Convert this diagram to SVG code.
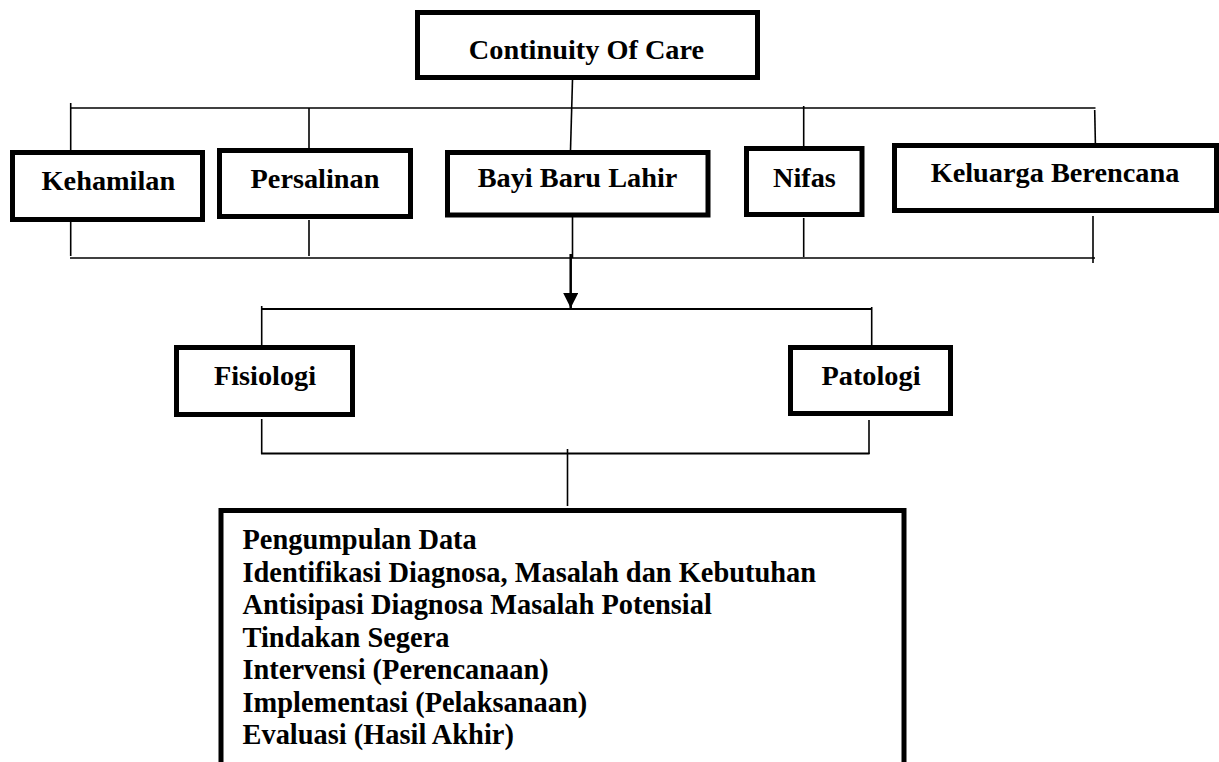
<svg xmlns="http://www.w3.org/2000/svg" width="1219" height="762" viewBox="0 0 1219 762">
<defs>
<style>
.box{fill:#fff;stroke:#000;stroke-width:5}
.lbl{font-family:"Liberation Serif","Times New Roman",serif;font-weight:bold;font-size:28.3px;fill:#000;text-anchor:middle}
.lst{font-family:"Liberation Serif","Times New Roman",serif;font-weight:bold;font-size:28.4px;fill:#000}
.ln{stroke:#000;stroke-width:1.6;fill:none}
.ln2{stroke:#000;stroke-width:2;fill:none}
</style>
<marker id="arr" markerWidth="6" markerHeight="6" refX="6" refY="3" orient="auto" markerUnits="strokeWidth">
<path d="M0,0 L6,3 L0,6 Z" fill="#000"/>
</marker>
</defs>
<rect width="1219" height="762" fill="#fff"/>
<g id="connectors">
<line class="ln" x1="572.5" y1="80" x2="570.5" y2="150"/>
<line class="ln" x1="70" y1="108" x2="1095.5" y2="108"/>
<line class="ln" x1="70.7" y1="103" x2="70.7" y2="150"/>
<line class="ln" x1="309" y1="108" x2="309" y2="148"/>
<line class="ln" x1="803.7" y1="106" x2="803.7" y2="146"/>
<line class="ln" x1="1094.7" y1="110" x2="1095.5" y2="149"/>
<line class="ln" x1="70" y1="258" x2="1095" y2="258"/>
<line class="ln" x1="70.7" y1="216" x2="70.7" y2="256"/>
<line class="ln" x1="309" y1="220" x2="309" y2="256"/>
<line class="ln" x1="572.5" y1="217" x2="572.5" y2="258"/>
<line class="ln" x1="803.7" y1="218" x2="803.7" y2="257"/>
<line class="ln" x1="1093" y1="216" x2="1093" y2="263"/>
<line x1="570.7" y1="254" x2="570.7" y2="308" stroke="#000" stroke-width="2.5" marker-end="url(#arr)"/>
<line class="ln2" x1="262" y1="309" x2="872" y2="309"/>
<line class="ln" x1="261.7" y1="306" x2="261.7" y2="345"/>
<line class="ln" x1="871.7" y1="307" x2="871.7" y2="345"/>
<line class="ln" x1="261.7" y1="419" x2="261.7" y2="454"/>
<line class="ln" x1="869" y1="420" x2="869" y2="454"/>
<line class="ln2" x1="261" y1="453.5" x2="869.5" y2="453.5"/>
<line class="ln" x1="567.5" y1="449" x2="567.5" y2="506"/>
</g>
<g id="node-coc">
<rect class="box" x="417.5" y="12.5" width="340" height="65"/>
<text class="lbl" x="586.5" y="59">Continuity Of Care</text>
</g>
<g id="node-kehamilan">
<rect class="box" x="12.5" y="152.5" width="190" height="67"/>
<text class="lbl" x="108.4" y="190">Kehamilan</text>
</g>
<g id="node-persalinan">
<rect class="box" x="219.5" y="150.5" width="191" height="66"/>
<text class="lbl" x="315" y="188">Persalinan</text>
</g>
<g id="node-bbl">
<rect class="box" x="447.5" y="152.5" width="260.5" height="62.5"/>
<text class="lbl" x="577.5" y="187">Bayi Baru Lahir</text>
</g>
<g id="node-nifas">
<rect class="box" x="746.5" y="148.5" width="115.5" height="66"/>
<text class="lbl" x="804.4" y="187">Nifas</text>
</g>
<g id="node-kb">
<rect class="box" x="894.5" y="145.5" width="322" height="65"/>
<text class="lbl" x="1055" y="182">Keluarga Berencana</text>
</g>
<g id="node-fisiologi">
<rect class="box" x="176.5" y="347.5" width="176" height="67"/>
<text class="lbl" x="265" y="385">Fisiologi</text>
</g>
<g id="node-patologi">
<rect class="box" x="790.5" y="347.5" width="160" height="66"/>
<text class="lbl" x="871" y="385">Patologi</text>
</g>
<g id="node-steps">
<rect class="box" x="221" y="510.5" width="683" height="270"/>
<text class="lst" x="242.5" y="549">Pengumpulan Data</text>
<text class="lst" x="242.5" y="581.5">Identifikasi Diagnosa, Masalah dan Kebutuhan</text>
<text class="lst" x="242.5" y="614">Antisipasi Diagnosa Masalah Potensial</text>
<text class="lst" x="242.5" y="646.5">Tindakan Segera</text>
<text class="lst" x="242.5" y="679">Intervensi (Perencanaan)</text>
<text class="lst" x="242.5" y="711.5">Implementasi (Pelaksanaan)</text>
<text class="lst" x="242.5" y="744">Evaluasi (Hasil Akhir)</text>
</g>
</svg>
